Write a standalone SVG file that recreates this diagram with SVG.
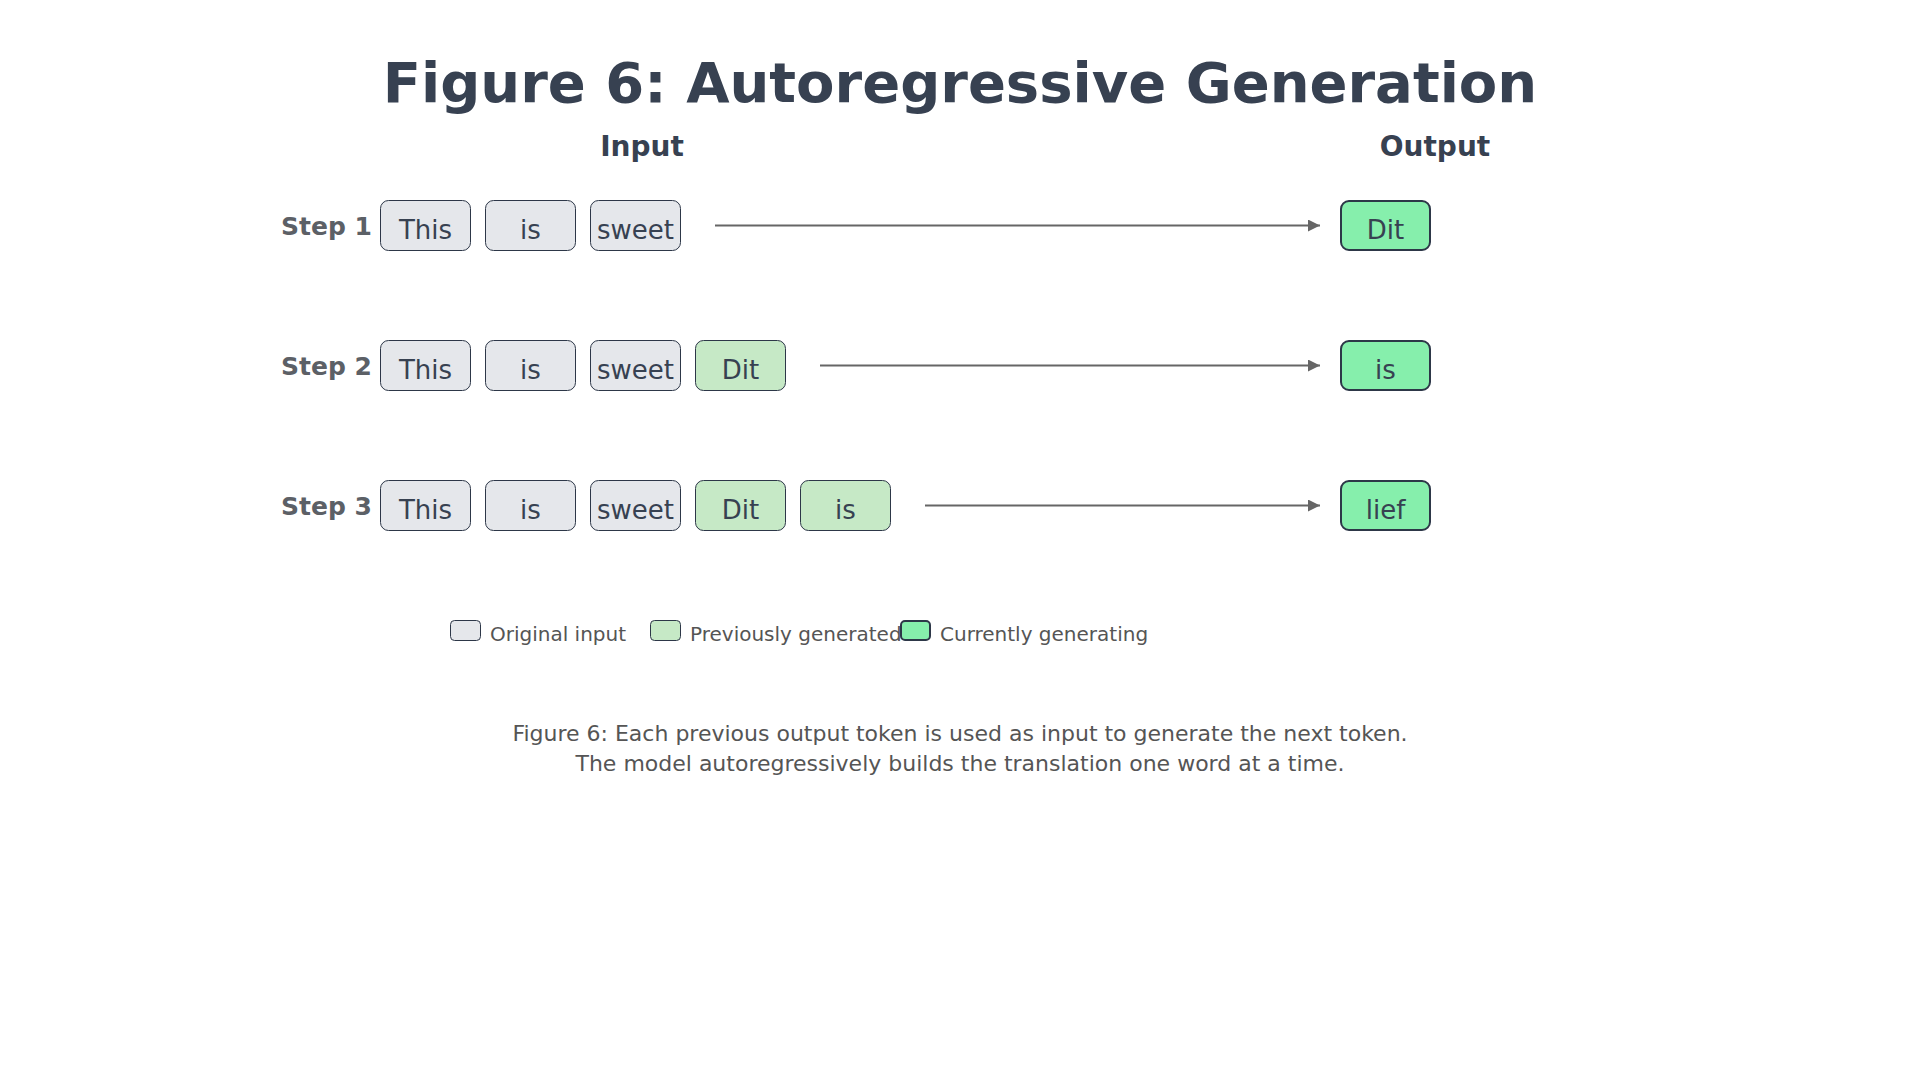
<svg xmlns="http://www.w3.org/2000/svg" width="1920" height="1080" viewBox="0 0 1920 1080">
<style>
  text { font-family: "DejaVu Sans", "Noto Sans", sans-serif; }
  .title { font-size: 56px; font-weight: bold; fill: #374151; }
  .head { font-size: 28px; font-weight: bold; fill: #374151; }
  .step { font-size: 25px; font-weight: bold; fill: #5c6066; }
  .tok { font-size: 26px; fill: #374151; text-anchor: middle; }
  .orig { fill: #e5e7eb; stroke: #2d3748; stroke-width: 1; }
  .prev { fill: #c6e9c6; stroke: #2d3748; stroke-width: 1; }
  .cur { fill: #86efac; stroke: #2d3748; stroke-width: 2; }
  .arrow { stroke: #666666; stroke-width: 2; fill: none; }
  .leg { font-size: 20px; fill: #555555; }
  .cap { font-size: 22px; fill: #555555; text-anchor: middle; }
</style>
<defs>
  <marker id="ah" markerUnits="userSpaceOnUse" markerWidth="12" markerHeight="12" refX="12" refY="6" orient="auto">
    <path d="M0,0 L12,6 L0,12 Z" fill="#666666"/>
  </marker>
</defs>
<rect width="1920" height="1080" fill="#ffffff"/>
<text class="title" x="960" y="102" text-anchor="middle">Figure 6: Autoregressive Generation</text>
<text class="head" x="642" y="156" text-anchor="middle">Input</text>
<text class="head" x="1435" y="156" text-anchor="middle">Output</text>

<g id="step1">
  <text class="step" x="372" y="235" text-anchor="end">Step 1</text>
  <g id="s1-t1"><rect class="orig" x="380.5" y="200.5" width="90" height="50" rx="8"/><text class="tok" x="425.5" y="239">This</text></g>
  <g id="s1-t2"><rect class="orig" x="485.5" y="200.5" width="90" height="50" rx="8"/><text class="tok" x="530.5" y="239">is</text></g>
  <g id="s1-t3"><rect class="orig" x="590.5" y="200.5" width="90" height="50" rx="8"/><text class="tok" x="635.5" y="239">sweet</text></g>
  <g id="s1-out"><rect class="cur" x="1341" y="201" width="89" height="49" rx="8"/><text class="tok" x="1385.5" y="239">Dit</text></g>
</g>

<g id="step2">
  <text class="step" x="372" y="375" text-anchor="end">Step 2</text>
  <g id="s2-t1"><rect class="orig" x="380.5" y="340.5" width="90" height="50" rx="8"/><text class="tok" x="425.5" y="379">This</text></g>
  <g id="s2-t2"><rect class="orig" x="485.5" y="340.5" width="90" height="50" rx="8"/><text class="tok" x="530.5" y="379">is</text></g>
  <g id="s2-t3"><rect class="orig" x="590.5" y="340.5" width="90" height="50" rx="8"/><text class="tok" x="635.5" y="379">sweet</text></g>
  <g id="s2-t4"><rect class="prev" x="695.5" y="340.5" width="90" height="50" rx="8"/><text class="tok" x="740.5" y="379">Dit</text></g>
  <g id="s2-out"><rect class="cur" x="1341" y="341" width="89" height="49" rx="8"/><text class="tok" x="1385.5" y="379">is</text></g>
</g>

<g id="step3">
  <text class="step" x="372" y="515" text-anchor="end">Step 3</text>
  <g id="s3-t1"><rect class="orig" x="380.5" y="480.5" width="90" height="50" rx="8"/><text class="tok" x="425.5" y="519">This</text></g>
  <g id="s3-t2"><rect class="orig" x="485.5" y="480.5" width="90" height="50" rx="8"/><text class="tok" x="530.5" y="519">is</text></g>
  <g id="s3-t3"><rect class="orig" x="590.5" y="480.5" width="90" height="50" rx="8"/><text class="tok" x="635.5" y="519">sweet</text></g>
  <g id="s3-t4"><rect class="prev" x="695.5" y="480.5" width="90" height="50" rx="8"/><text class="tok" x="740.5" y="519">Dit</text></g>
  <g id="s3-t5"><rect class="prev" x="800.5" y="480.5" width="90" height="50" rx="8"/><text class="tok" x="845.5" y="519">is</text></g>
  <g id="s3-out"><rect class="cur" x="1341" y="481" width="89" height="49" rx="8"/><text class="tok" x="1385.5" y="519">lief</text></g>
</g>

<g id="connectors">
  <line class="arrow" x1="715" y1="225.5" x2="1320" y2="225.5" marker-end="url(#ah)"/>
  <line class="arrow" x1="820" y1="365.5" x2="1320" y2="365.5" marker-end="url(#ah)"/>
  <line class="arrow" x1="925" y1="505.5" x2="1320" y2="505.5" marker-end="url(#ah)"/>
</g>

<g id="legend">
  <rect class="orig" x="450.5" y="620.5" width="30" height="20" rx="4"/>
  <text class="leg" x="490" y="641">Original input</text>
  <rect class="prev" x="650.5" y="620.5" width="30" height="20" rx="4"/>
  <text class="leg" x="690" y="641">Previously generated</text>
  <rect class="cur" x="901" y="621" width="29" height="19" rx="4"/>
  <text class="leg" x="940" y="641">Currently generating</text>
</g>

<g id="caption">
  <text class="cap" x="960" y="741">Figure 6: Each previous output token is used as input to generate the next token.</text>
  <text class="cap" x="960" y="771">The model autoregressively builds the translation one word at a time.</text>
</g>
</svg>
